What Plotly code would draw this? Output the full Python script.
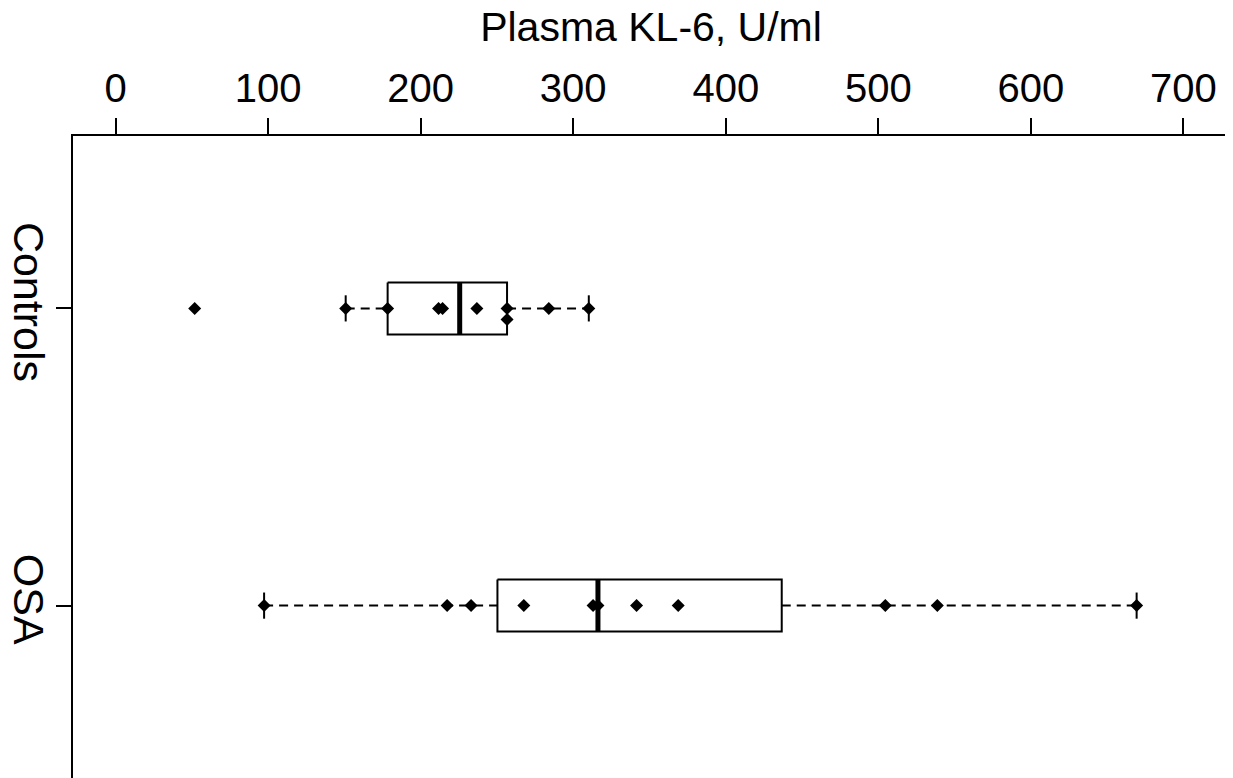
import numpy as np
import plotly.graph_objects as go

# ---- data ----
groups = ["Controls", "OSA"]
controls = [51.8, 150.8, 178.3, 211.7, 214.3, 236.8, 256.6, 256.6, 284.0, 310.2]
osa = [97.3, 217.3, 233.0, 267.6, 313.0, 316.2, 341.5, 368.8, 504.6, 538.7, 669.4]
x_ticks = [0, 100, 200, 300, 400, 500, 600, 700]
x_title = "Plasma KL-6, U/ml"

FONT = "Liberation Sans, Arial, sans-serif"
BOX_HALF = 0.0875
STAPLE_HALF = 0.044
STACK_OFF = 0.037


def fivenum(v):
    v = np.sort(np.asarray(v, dtype=float))
    n = len(v)
    n4 = np.floor((n + 3) / 2) / 2
    d = np.array([1, n4, (n + 1) / 2, n + 1 - n4, n]) - 1
    return 0.5 * (v[np.floor(d).astype(int)] + v[np.ceil(d).astype(int)])


box_x, box_y = [], []
med_x, med_y = [], []
wh_x, wh_y = [], []
st_x, st_y = [], []
pt_x, pt_y = [], []

for i, vals in enumerate([controls, osa]):
    c = i + 1
    mn, q1, med, q3, mx = fivenum(vals)
    iqr = q3 - q1
    arr = np.asarray(vals)
    inside = arr[(arr >= q1 - 1.5 * iqr) & (arr <= q3 + 1.5 * iqr)]
    lw, uw = inside.min(), inside.max()
    box_x += [q1, q3, q3, q1, q1, None]
    box_y += [c - BOX_HALF, c - BOX_HALF, c + BOX_HALF, c + BOX_HALF, c - BOX_HALF, None]
    med_x += [med, med, None]
    med_y += [c - BOX_HALF, c + BOX_HALF, None]
    wh_x += [lw, q1, None, q3, uw, None]
    wh_y += [c, c, None, c, c, None]
    st_x += [lw, lw, None, uw, uw, None]
    st_y += [c - STAPLE_HALF, c + STAPLE_HALF, None, c - STAPLE_HALF, c + STAPLE_HALF, None]
    seen = {}
    for v in vals:
        k = seen.get(v, 0)
        seen[v] = k + 1
        pt_x.append(v)
        pt_y.append(c + k * STACK_OFF)

fig = go.Figure()
fig.add_trace(go.Scatter(x=box_x, y=box_y, mode="lines", fill="toself",
                         fillcolor="white", line=dict(color="black", width=2),
                         hoverinfo="skip", showlegend=False))
fig.add_trace(go.Scatter(x=wh_x, y=wh_y, mode="lines",
                         line=dict(color="black", width=2, dash="9px,6px"),
                         hoverinfo="skip", showlegend=False))
fig.add_trace(go.Scatter(x=st_x, y=st_y, mode="lines",
                         line=dict(color="black", width=2),
                         hoverinfo="skip", showlegend=False))
fig.add_trace(go.Scatter(x=med_x, y=med_y, mode="lines",
                         line=dict(color="black", width=5),
                         hoverinfo="skip", showlegend=False))
fig.add_trace(go.Scatter(x=pt_x, y=pt_y, mode="markers",
                         marker=dict(symbol="diamond", size=10, color="black",
                                     line=dict(width=0)),
                         showlegend=False))

fig.update_layout(
    width=1233, height=778,
    margin=dict(l=65, r=15, t=128, b=8, autoexpand=False),
    paper_bgcolor="white", plot_bgcolor="white",
    font=dict(family=FONT, size=40, color="black"),
    title=dict(text=x_title, x=0.5215, xanchor="center", y=1 - 18.5 / 778,
               yanchor="middle", yref="container",
               font=dict(family=FONT, size=41, color="black")),
    showlegend=False,
)
fig.update_xaxes(side="top", range=[-28, 728], tickvals=x_ticks,
                 ticks="outside", ticklen=16, tickwidth=2, tickcolor="black",
                 showline=True, linewidth=2, linecolor="black", mirror=False,
                 showgrid=False, zeroline=False, ticklabelstandoff=0,
                 automargin=False,
                 tickfont=dict(family=FONT, size=40, color="black"))
fig.update_yaxes(range=[2.58, 0.42], tickvals=[1, 2], ticktext=groups,
                 tickangle=90, ticks="outside", ticklen=15, tickwidth=2,
                 tickcolor="black", showline=True, linewidth=2,
                 linecolor="black", mirror=True, showgrid=False,
                 zeroline=False, automargin=False, ticklabelstandoff=-10,
                 tickfont=dict(family=FONT, size=43, color="black"))

fig.write_html("out.html")
